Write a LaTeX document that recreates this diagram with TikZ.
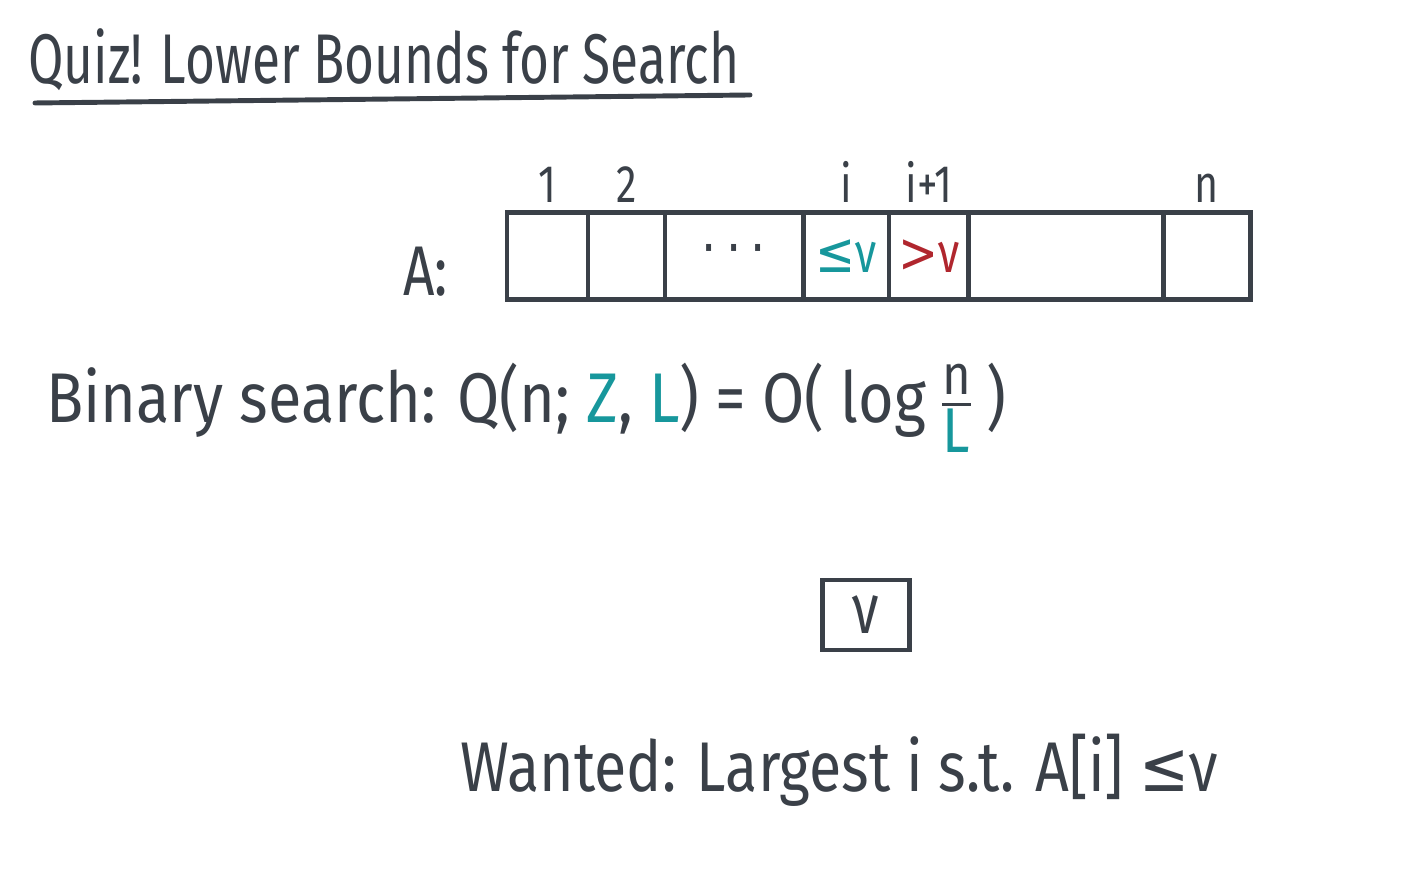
\documentclass[tikz,border=0pt]{standalone}
\usepackage{amsmath}
\usepackage{fontspec}
\setmainfont[FakeStretch=0.78]{Fira Sans}
\newfontfamily\titlehand[FakeStretch=0.73]{Fira Sans}
\newfontfamily\widehand[FakeStretch=0.87]{Fira Sans}
\newfontfamily\goalhand[FakeStretch=0.84]{Fira Sans}
\newfontfamily\symhand[FakeStretch=0.85]{DejaVu Sans}
\usepackage{xcolor}
\definecolor{ink}{HTML}{3A4048}
\definecolor{tealink}{HTML}{17979C}
\definecolor{redink}{HTML}{B0262E}

\begin{document}
\begin{tikzpicture}[x=0.01cm, y=-0.01cm, line width=1.4pt, draw=ink,
      every node/.style={text=ink, font=\fontsize{20}{24}\selectfont},
      cell/.style={draw=ink, line width=1.4pt, inner sep=0pt, minimum height=0.87cm},
      idx/.style={font=\fontsize{15}{18}\selectfont, above=-2pt}]
    \useasboundingbox (0,0) rectangle (1403,874);
    % title
    \node[anchor=west, font=\titlehand\fontsize{20}{24}\selectfont] (title) at (14,60) {Quiz! Lower Bounds for Search};
    \coordinate (ul1) at (35,103);
    \coordinate (ul2) at (750,95);
    \draw[line cap=round] (ul1) -- (ul2);
    % array
    \node[anchor=east] (alabel) at (462,272) {A:};
    \node[cell, minimum width=0.81cm] (c1) at (547.5,256) {};
    \node[cell, minimum width=0.77cm] (c2) at (626.5,256) {};
    \node[cell, minimum width=1.38cm, font=\symhand\fontsize{16}{18}\selectfont] (c3) at (734,256) {\raisebox{-2.5pt}{·\,·\,·}};
    \node[cell, minimum width=0.86cm, font=\fontsize{16}{18}\selectfont, text=tealink] (c4) at (846,256) {{\symhand ≤}ν};
    \node[cell, minimum width=0.80cm, font=\fontsize{16}{18}\selectfont, text=redink] (c5) at (929,256) {{\symhand >}ν};
    \node[cell, minimum width=1.94cm] (c6) at (1066,256) {};
    \node[cell, minimum width=0.87cm] (c7) at (1206.5,256) {};
    \node[idx] at (c1.north) {1};
    \node[idx] at (c2.north) {2};
    \node[idx] at (c4.north) {i};
    \node[idx] at (c5.north) {i+1};
    \node[idx] at (c7.north) {n};
    % binary search bound
    \node[anchor=west, font=\widehand\fontsize{20}{24}\selectfont] (bsearch) at (32,408)
      {Binary search: Q(n; {\color{tealink}Z}, {\color{tealink}L}) = O( log\,$\frac{\mbox{\fontsize{16}{16}\selectfont n}}{\mbox{\fontsize{18}{18}\selectfont\color{tealink}L}}$\,)};
    % query value
    \node[draw=ink, line width=1.4pt, minimum width=0.87cm, minimum height=0.70cm] (query) at (866,615) {ν};
    % goal
    \node[anchor=west, font=\goalhand\fontsize{20}{24}\selectfont] (wanted) at (446,770) {Wanted: Largest i s.t. A[i] {\symhand ≤}ν};
\end{tikzpicture}
\end{document}
